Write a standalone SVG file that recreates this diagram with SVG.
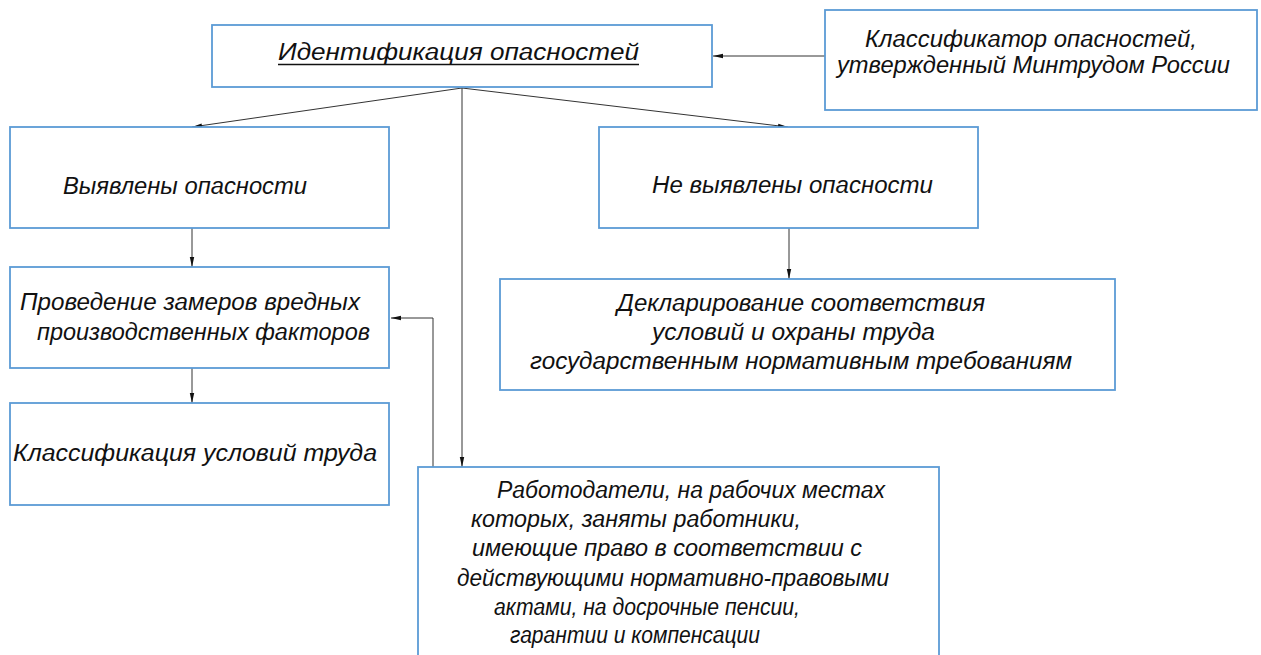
<svg xmlns="http://www.w3.org/2000/svg" width="1261" height="655" viewBox="0 0 1261 655">
<style>
.box{fill:#fff;stroke:#5b9bd5;stroke-width:1.8}
.t{font-family:"Liberation Sans",sans-serif;font-style:italic;font-size:23px;fill:#111}
.c{fill:none;stroke:#333;stroke-width:1}
</style>
<defs>
<marker id="ah" viewBox="0 0 10 6" refX="10" refY="3" markerWidth="10" markerHeight="6" markerUnits="userSpaceOnUse" orient="auto">
<path d="M0,0.8 L10,3 L0,5.2 Z" fill="#111"/>
</marker>
</defs>
<rect width="1261" height="655" fill="#fff"/>
<g id="connectors">
<line class="c" x1="825" y1="56" x2="713" y2="56" marker-end="url(#ah)"/>
<line class="c" x1="462" y1="88" x2="192" y2="127" marker-end="url(#ah)"/>
<line class="c" x1="462" y1="88" x2="788" y2="127" marker-end="url(#ah)"/>
<line class="c" x1="462" y1="88" x2="462" y2="467" marker-end="url(#ah)"/>
<line class="c" x1="192" y1="228" x2="192" y2="267" marker-end="url(#ah)"/>
<line class="c" x1="789" y1="228" x2="789" y2="279" marker-end="url(#ah)"/>
<line class="c" x1="192" y1="368" x2="192" y2="403" marker-end="url(#ah)"/>
<polyline class="c" points="433,467 433,318 391,318" marker-end="url(#ah)"/>
</g>
<g id="n-ident">
<rect class="box" x="212" y="25" width="500" height="62"/>
<text class="t" x="278" y="60" textLength="361" lengthAdjust="spacingAndGlyphs">Идентификация опасностей</text>
<line x1="278" y1="64.5" x2="639" y2="64.5" stroke="#111" stroke-width="1.3"/>
</g>
<g id="n-classifier">
<rect class="box" x="825" y="10" width="432" height="100"/>
<text class="t" x="865" y="47" textLength="332" lengthAdjust="spacingAndGlyphs">Классификатор опасностей,</text>
<text class="t" x="837" y="73" textLength="393" lengthAdjust="spacingAndGlyphs">утвержденный Минтрудом России</text>
</g>
<g id="n-found">
<rect class="box" x="10" y="127" width="379" height="101"/>
<text class="t" x="63" y="194" textLength="244" lengthAdjust="spacingAndGlyphs">Выявлены опасности</text>
</g>
<g id="n-notfound">
<rect class="box" x="599" y="127" width="379" height="101"/>
<text class="t" x="652" y="193" textLength="281" lengthAdjust="spacingAndGlyphs">Не выявлены опасности</text>
</g>
<g id="n-measure">
<rect class="box" x="10" y="267" width="379" height="101"/>
<text class="t" x="20" y="310" textLength="340" lengthAdjust="spacingAndGlyphs">Проведение замеров вредных</text>
<text class="t" x="37" y="340" textLength="333" lengthAdjust="spacingAndGlyphs">производственных факторов</text>
</g>
<g id="n-classif">
<rect class="box" x="10" y="403" width="379" height="102"/>
<text class="t" x="13" y="461" textLength="364" lengthAdjust="spacingAndGlyphs">Классификация условий труда</text>
</g>
<g id="n-declar">
<rect class="box" x="500" y="279" width="615" height="111"/>
<text class="t" x="617" y="311" textLength="368" lengthAdjust="spacingAndGlyphs">Декларирование соответствия</text>
<text class="t" x="652" y="340" textLength="283" lengthAdjust="spacingAndGlyphs">условий и охраны труда</text>
<text class="t" x="530" y="369" textLength="542" lengthAdjust="spacingAndGlyphs">государственным нормативным требованиям</text>
</g>
<g id="n-employers">
<rect class="box" x="418" y="467" width="521" height="210"/>
<text class="t" x="497" y="498" textLength="388" lengthAdjust="spacingAndGlyphs">Работодатели, на рабочих местах</text>
<text class="t" x="471" y="527" textLength="330" lengthAdjust="spacingAndGlyphs">которых, заняты работники,</text>
<text class="t" x="472" y="556" textLength="390" lengthAdjust="spacingAndGlyphs">имеющие право в соответствии с</text>
<text class="t" x="457" y="586" textLength="432" lengthAdjust="spacingAndGlyphs">действующими нормативно-правовыми</text>
<text class="t" x="494" y="615" textLength="306" lengthAdjust="spacingAndGlyphs">актами, на досрочные пенсии,</text>
<text class="t" x="510" y="643" textLength="250" lengthAdjust="spacingAndGlyphs">гарантии и компенсации</text>
</g>
</svg>
